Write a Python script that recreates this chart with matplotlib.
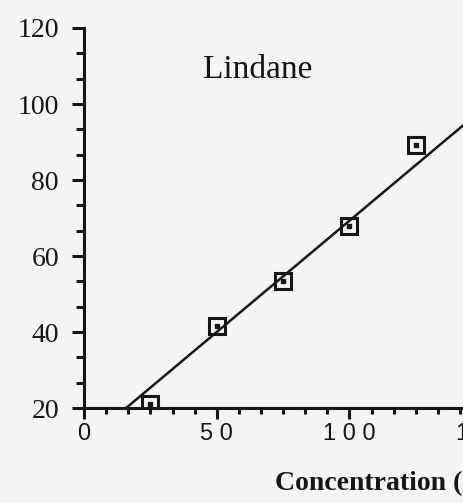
import matplotlib
matplotlib.use("Agg")
import matplotlib.pyplot as plt
from matplotlib.ticker import AutoMinorLocator, FixedLocator, FixedFormatter
import numpy as np

# ---- data ----
title = "Lindane"
x_label = "Concentration (ng/mL)"
conc = [25, 50, 75, 100, 125]
response = [21, 41.5, 53.5, 68, 89.3]
fit_slope = 0.586
fit_intercept = 10.7
x_ticks = [0, 50, 100, 150]
x_ticklabels = ["0", "50", "100", "150"]
y_ticks = [20, 40, 60, 80, 100, 120]
y_ticklabels = ["20", "40", "60", "80", "100", "120"]

W, H = 463, 503
DPI = 100
bg = "#f5f5f4"
ink = "#161616"
fig = plt.figure(figsize=(W / DPI, H / DPI), dpi=DPI, facecolor=bg)

# axes geometry (pixels)
left_px, bottom_px, top_px = 84, 408, 28
xmax = 160
px_per_x = 2.655
ax = fig.add_axes([left_px / W, (H - bottom_px) / H,
                   xmax * px_per_x / W, (bottom_px - top_px) / H])
ax.set_facecolor(bg)
ax.set_xlim(0, xmax)
ax.set_ylim(20, 120)

for s in ("top", "right"):
    ax.spines[s].set_visible(False)
for s in ("left", "bottom"):
    ax.spines[s].set_linewidth(2.2)
    ax.spines[s].set_color(ink)

# fit line
xf = np.array([0, xmax])
ax.plot(xf, fit_slope * xf + fit_intercept, color=ink, lw=1.8, zorder=2)

# data markers: open square with a centre dot
ax.plot(conc, response, ls="none", marker="s", ms=11.5, mfc="none",
        mec=ink, mew=2.2, zorder=3)
ax.plot(conc, response, ls="none", marker="s", ms=2.2, mfc=ink,
        mec=ink, zorder=4)

# ticks
ax.xaxis.set_major_locator(FixedLocator(x_ticks))
ax.xaxis.set_major_formatter(FixedFormatter([" ".join(t) for t in x_ticklabels]))
ax.xaxis.set_minor_locator(AutoMinorLocator(6))
ax.yaxis.set_major_locator(FixedLocator(y_ticks))
ax.yaxis.set_major_formatter(FixedFormatter(y_ticklabels))
ax.yaxis.set_minor_locator(AutoMinorLocator(3))

ax.tick_params(axis="x", which="major", direction="out", length=8, width=2.2,
               pad=3, labelsize=17, colors=ink)
ax.tick_params(axis="x", which="minor", direction="out", length=4, width=2.2,
               colors=ink)
ax.tick_params(axis="y", which="major", direction="out", length=9, width=2.2,
               pad=9, labelsize=20, colors=ink)
ax.tick_params(axis="y", which="minor", direction="out", length=5.5, width=2.2,
               colors=ink)
for lab in ax.get_xticklabels():
    lab.set_fontfamily("Liberation Sans")
for lab in ax.get_yticklabels():
    lab.set_fontfamily("Liberation Serif")

# title inside plot
fig.text(258 / W, 1 - 70 / H, title, ha="center", va="center",
         fontsize=24, family="Liberation Serif", color=ink)

# x label (cropped at right in the reference)
fig.text(275 / W, 1 - 490 / H, x_label, ha="left", va="baseline",
         fontsize=20, fontweight="bold", family="Liberation Serif",
         color=ink)

fig.savefig("out.png", dpi=DPI, facecolor=bg)
